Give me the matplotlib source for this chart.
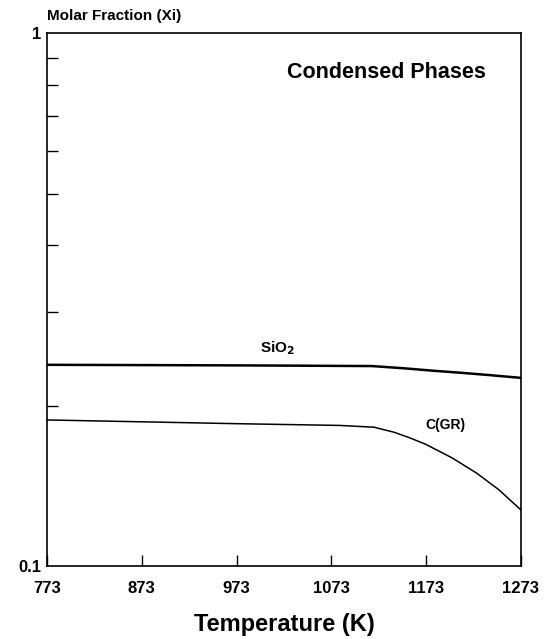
import matplotlib
matplotlib.use("Agg")
import matplotlib.pyplot as plt
from matplotlib.ticker import FixedLocator, NullFormatter

plt.rcParams["font.family"] = ["Liberation Sans", "DejaVu Sans"]
plt.rcParams["font.weight"] = "bold"

# Data
sio2_temp = [773, 873, 973, 1040, 1116, 1150, 1180, 1210, 1240, 1273]
sio2_frac = [0.2386, 0.2383, 0.238, 0.2377, 0.2373, 0.235, 0.2326, 0.2305, 0.2282, 0.2255]

cgr_temp = [773, 873, 973, 1082, 1118, 1139, 1155, 1172, 1200, 1226, 1250, 1273]
cgr_frac = [0.188, 0.1865, 0.185, 0.1836, 0.1822, 0.1783, 0.1742, 0.1694, 0.1597,
            0.1495, 0.1389, 0.1274]

x_ticks = [773, 873, 973, 1073, 1173, 1273]
y_major = [0.1, 1]
y_major_labels = ["0.1", "1"]
y_minor = [0.2, 0.3, 0.4, 0.5, 0.6, 0.7, 0.8, 0.9]

fig = plt.figure(figsize=(5.56, 6.39), dpi=100)
ax = fig.add_axes([0.0845, 0.1142, 0.8525, 0.8338])

ax.plot(sio2_temp, sio2_frac, color="black", linewidth=1.8)
ax.plot(cgr_temp, cgr_frac, color="black", linewidth=1.1)

ax.set_yscale("log")
ax.set_xlim(773, 1273)
ax.set_ylim(0.1, 1)

ax.set_xticks(x_ticks)
ax.set_xticklabels([str(t) for t in x_ticks], fontsize=12, fontweight="bold")
ax.yaxis.set_major_locator(FixedLocator(y_major))
ax.set_yticklabels(y_major_labels, fontsize=12, fontweight="bold")
ax.yaxis.set_minor_locator(FixedLocator(y_minor))
ax.yaxis.set_minor_formatter(NullFormatter())

ax.tick_params(axis="x", which="major", direction="in", length=8, width=1, pad=11)
ax.tick_params(axis="y", which="major", direction="in", length=0, pad=4)
ax.tick_params(axis="y", which="minor", direction="in", length=8, width=1)

for side in ax.spines.values():
    side.set_linewidth(1.2)

ax.set_xlabel("Temperature (K)", fontsize=17, fontweight="bold", labelpad=12)
fig.text(0.0845, 0.975, "Molar Fraction (Xi)", fontsize=11, fontweight="bold",
         ha="left", va="center")

ax.text(1131, 0.845, "Condensed Phases", fontsize=15.5, fontweight="bold",
        ha="center", va="center")
ax.text(1016, 0.256, "SiO$_\\mathbf{2}$", fontsize=11, fontweight="bold",
        ha="center", va="center")
ax.text(1193, 0.1837, "C(GR)", fontsize=10, fontweight="bold",
        ha="center", va="center")

fig.savefig("out.png", dpi=100)
